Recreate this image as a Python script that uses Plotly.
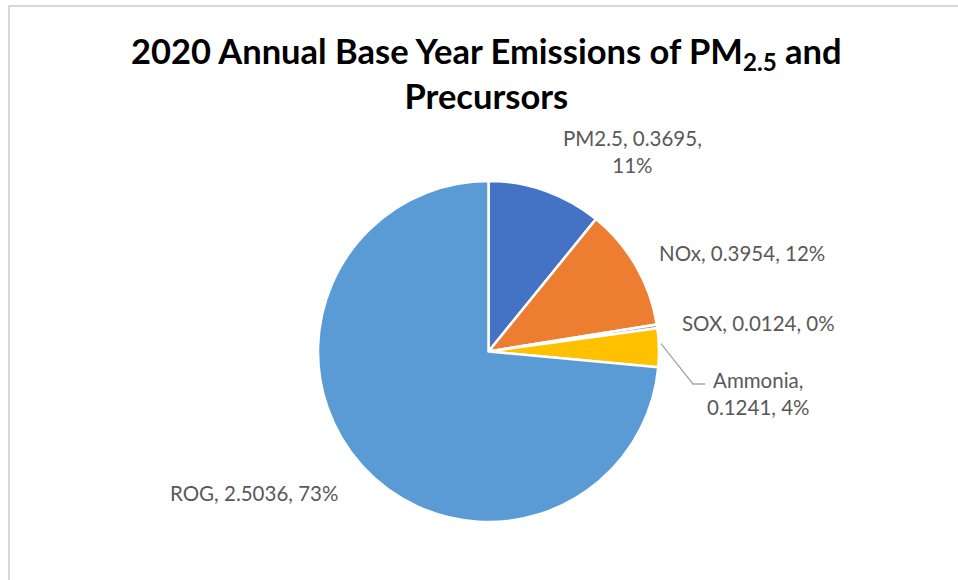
import math
import plotly.graph_objects as go

# Emission sources and annual base-year totals (tons/day)
categories = ["PM2.5", "NOx", "SOX", "Ammonia", "ROG"]
values = [0.3695, 0.3954, 0.0124, 0.1241, 2.5036]
pct_labels = ["11%", "12%", "0%", "4%", "73%"]
colors = ["#4472C4", "#ED7D31", "#A5A5A5", "#FFC000", "#5B9BD5"]

W, H = 958, 580
# pie box in pixels (left, top, right, bottom)
pie_box = (318, 181, 659, 522)

fig = go.Figure(
    go.Pie(
        labels=categories,
        values=values,
        sort=False,
        direction="clockwise",
        rotation=0,
        marker=dict(colors=colors, line=dict(color="white", width=2.5)),
        textinfo="none",
        hoverinfo="label+value+percent",
        showlegend=False,
        domain=dict(
            x=[pie_box[0] / W, pie_box[2] / W],
            y=[1 - pie_box[3] / H, 1 - pie_box[1] / H],
        ),
    )
)

label_font = dict(family="Lato, Carlito, Calibri, sans-serif", size=20.5, color="#595959")

# label text for each slice and where it sits (pixel centre)
label_text = [
    f"{c}, {v:.4f}, {p}" for c, v, p in zip(categories, values, pct_labels)
]
label_text[0] = f"{categories[0]}, {values[0]:.4f},<br>{pct_labels[0]}"
label_text[3] = f"{categories[3]},<br>{values[3]:.4f}, {pct_labels[3]}"
label_pos = [(632, 151), (742, 253), (758, 323), (758, 393), (254, 493)]

for txt, (px, py) in zip(label_text, label_pos):
    fig.add_annotation(
        x=px / W, y=1 - py / H, xref="paper", yref="paper",
        text=txt, showarrow=False, font=label_font,
        xanchor="center", yanchor="middle", align="center",
    )

# leader line for the Ammonia slice, starting at the slice's outer edge
cx = (pie_box[0] + pie_box[2]) / 2
cy = (pie_box[1] + pie_box[3]) / 2
r = (pie_box[2] - pie_box[0]) / 2
total = sum(values)
start = sum(values[:3]) / total
mid = start + values[3] / total / 2
ang = 2 * math.pi * mid
sx = cx + (r + 2) * math.sin(ang)
sy = cy - (r + 2) * math.cos(ang) - 4
elbow = (693, 384)
end = (705, 384)
path = f"M {sx/W},{1-sy/H} L {elbow[0]/W},{1-elbow[1]/H} L {end[0]/W},{1-end[1]/H}"
fig.add_shape(type="path", path=path, xref="paper", yref="paper",
              line=dict(color="#A6A6A6", width=1.3))

# chart-area border (right and bottom edges fall outside the view)
fig.add_shape(type="rect", xref="paper", yref="paper",
              x0=9 / W, x1=1.2, y0=-0.2, y1=1 - 6 / H,
              line=dict(color="#D9D9D9", width=2), layer="below")

# title
fig.add_annotation(
    x=486 / W, y=1 - 73 / H, xref="paper", yref="paper",
    text="2020 Annual Base Year Emissions of PM<sub>2.5</sub> and<br>Precursors",
    showarrow=False, xanchor="center", yanchor="middle", align="center",
    font=dict(family="Lato, Carlito, Calibri, sans-serif", size=34.5, color="#000000", weight="bold"),
)

fig.update_layout(
    width=W, height=H,
    margin=dict(l=0, r=0, t=0, b=0),
    paper_bgcolor="white",
    plot_bgcolor="white",
)

fig.write_html("out.html")
